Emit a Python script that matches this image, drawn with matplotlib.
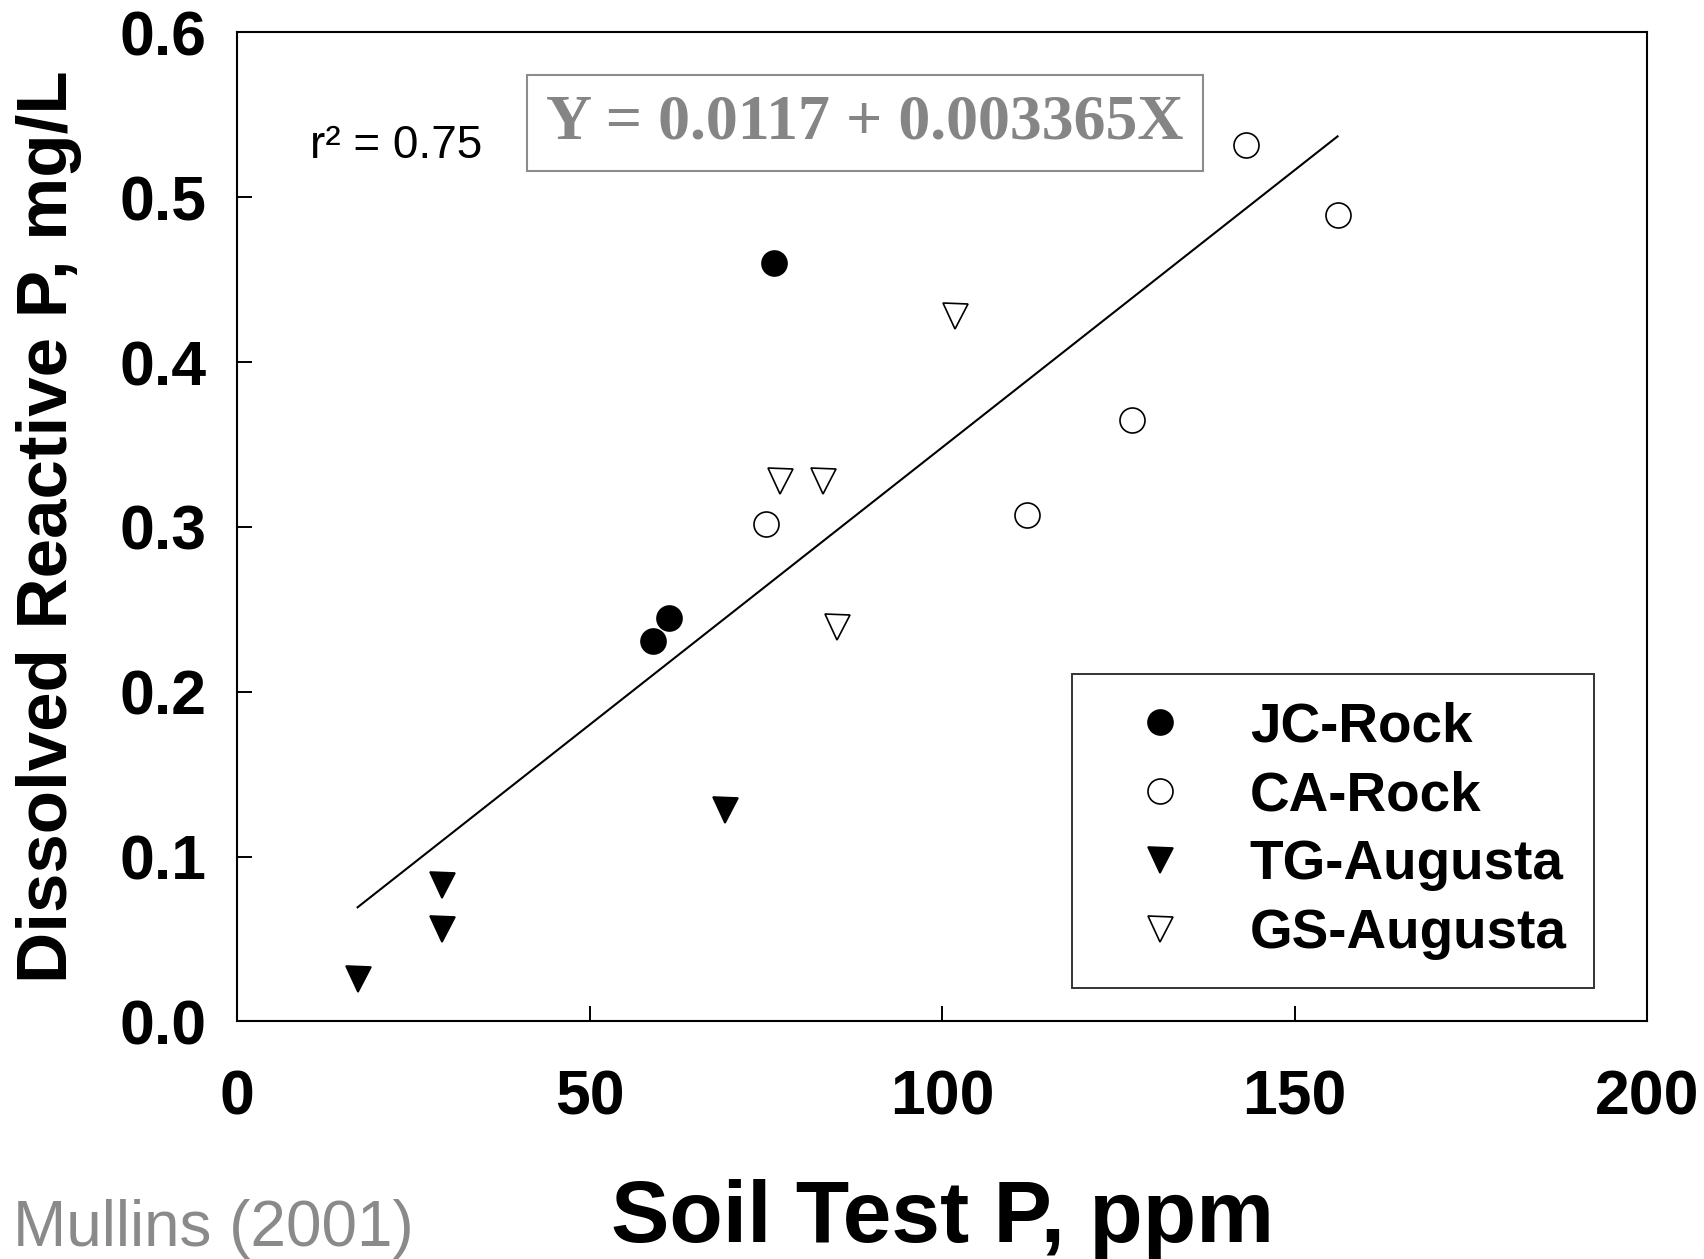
import matplotlib
matplotlib.use("Agg")
import matplotlib.pyplot as plt
import numpy as np

plt.rcParams['font.family'] = ['Liberation Sans', 'DejaVu Sans']

# data
jc_x = [76.1, 61.2, 59.0]
jc_y = [0.460, 0.245, 0.231]
ca_x = [143.1, 156.1, 127.0, 112.0, 75.0]
ca_y = [0.532, 0.489, 0.365, 0.307, 0.302]
tg_x = [17.1, 29.1, 29.1, 69.2]
tg_y = [0.026, 0.083, 0.056, 0.128]
gs_x = [101.8, 77.0, 83.1, 85.1]
gs_y = [0.428, 0.328, 0.328, 0.239]
intercept = 0.0117
slope = 0.003365
r2 = 0.75
xticks = [0, 50, 100, 150, 200]
yticks = [0.0, 0.1, 0.2, 0.3, 0.4, 0.5, 0.6]

fig = plt.figure(figsize=(17.04, 12.59), dpi=100)
ax = fig.add_axes([0.1391, 0.1887, 0.8275, 0.7855])

ms = 18
ax.plot(jc_x, jc_y, 'o', ms=ms, mfc='black', mec='black', mew=1.2, label='JC-Rock')
ax.plot(ca_x, ca_y, 'o', ms=ms, mfc='white', mec='black', mew=1.2, label='CA-Rock')
ax.plot(tg_x, tg_y, 'v', ms=ms, mfc='black', mec='black', mew=1.2, label='TG-Augusta')
ax.plot(gs_x, gs_y, 'v', ms=ms, mfc='white', mec='black', mew=1.2, label='GS-Augusta')

allx = jc_x + ca_x + tg_x + gs_x
xl = np.array([min(allx), max(allx)])
ax.plot(xl, intercept + slope * xl, color='black', lw=1.5)

ax.set_xlim(0, 200)
ax.set_ylim(0, 0.6)
ax.set_xticks(xticks)
ax.set_yticks(yticks)
ax.set_xticklabels([str(v) for v in xticks])
ax.set_yticklabels(['%.1f' % v for v in yticks])
ax.tick_params(axis='both', direction='in', length=11, width=1.4, labelsize=45)
ax.tick_params(axis='x', pad=34)
ax.tick_params(axis='y', pad=22)
for lab in ax.get_xticklabels() + ax.get_yticklabels():
    lab.set_fontweight('bold')
for sp in ax.spines.values():
    sp.set_linewidth(1.5)

ax.set_ylabel('Dissolved Reactive P, mg/L', fontsize=51, fontweight='bold')
ax.yaxis.set_label_coords(-0.110, 0.5)
ax.set_xlabel('Soil Test P, ppm', fontsize=63, fontweight='bold', va='baseline')
ax.xaxis.set_label_coords(0.5, -0.223)

ax.text(10.3, 0.524, 'r² = %.2f' % r2, fontsize=33, ha='left', va='baseline')
ax.text(89.1, 0.545, 'Y = %.4f + %.6fX' % (intercept, slope), fontsize=46,
        fontweight='bold', family='Liberation Serif', color='#858585',
        ha='center', va='center',
        bbox=dict(boxstyle='square,pad=0.3', fc='white', ec='#8c8c8c', lw=1.5))

leg = ax.legend(loc='lower right', bbox_to_anchor=(0.9624, 0.0339), borderaxespad=0,
                prop={'weight': 'bold', 'size': 39.5}, frameon=True, fancybox=False,
                edgecolor='black', borderpad=0.5, handlelength=2.2,
                handletextpad=0.54, labelspacing=0.31, numpoints=1)
leg.get_frame().set_linewidth(1.4)

fig.text(0.0076, 0.0103, 'Mullins (2001)', fontsize=46, color='#8a8a8a', va='baseline')

fig.savefig('out.png', dpi=100)
